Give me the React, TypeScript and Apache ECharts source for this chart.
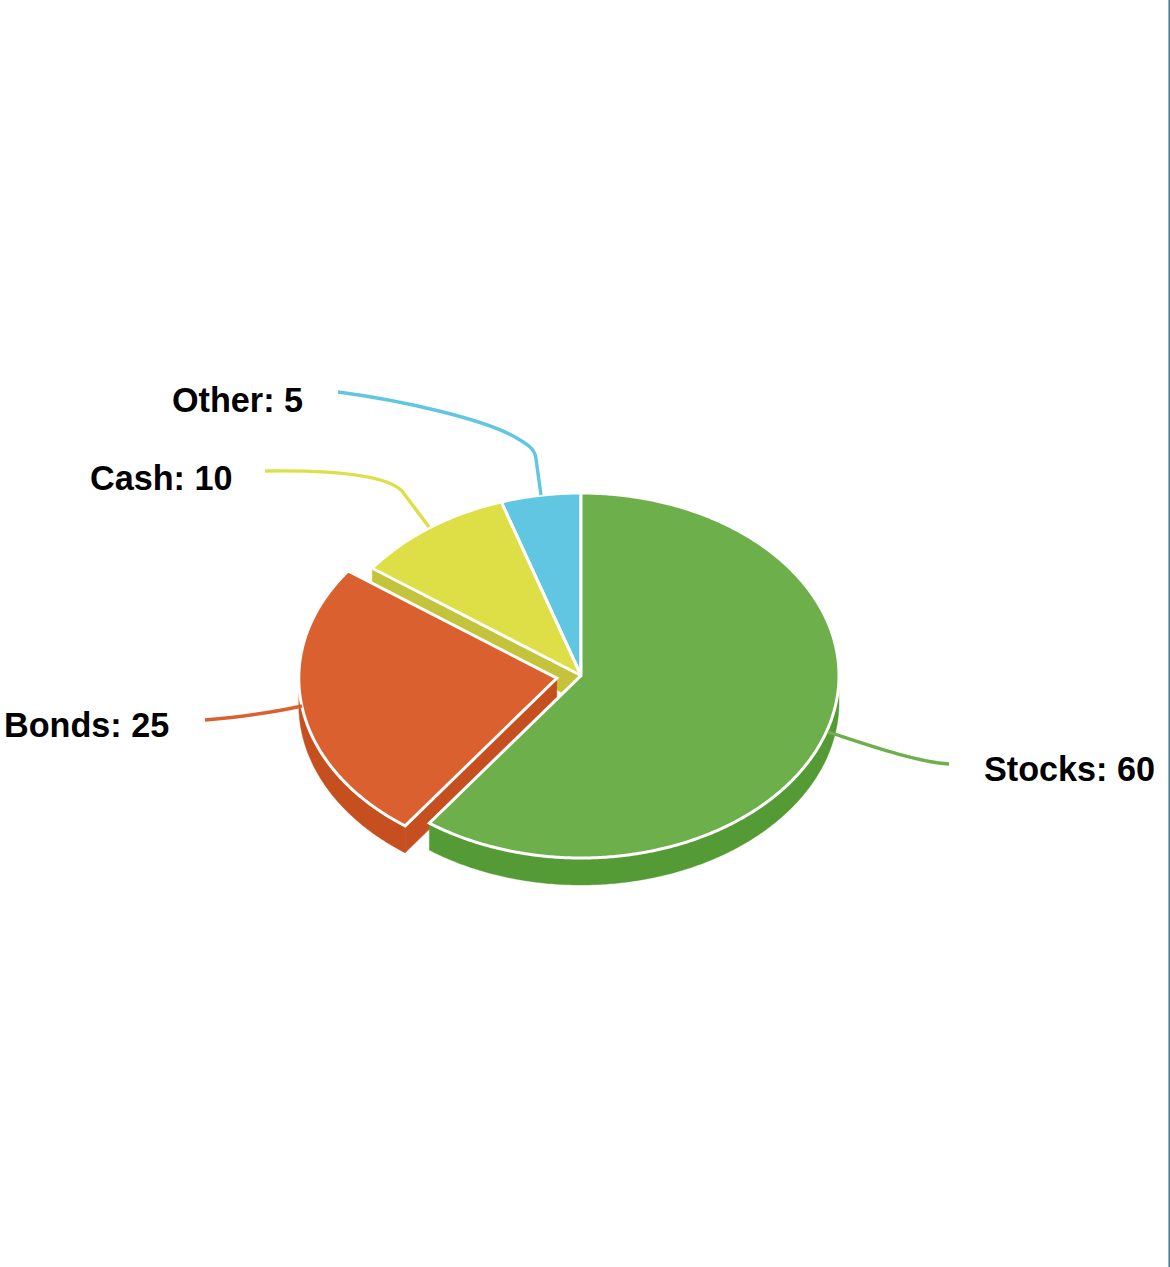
import React, { useEffect, useRef } from "react";
import * as echarts from "echarts";

// Data
const categories = ["Stocks", "Bonds", "Cash", "Other"];
const values = [60, 25, 10, 5];
const explode = [0, 0.095, 0, 0];

// Styles
const topColors = ["#6DB04B", "#DB6030", "#DEDF47", "#60C6E2"];
const wallColors = ["#559B35", "#C64F20", "#C4C43C", "#4FA9C4"];
const FONT = '"Liberation Sans", Arial, Helvetica, sans-serif';

// Layout
const W = 1170;
const H = 1267;
const CX = 581;
const CY = 675.5;
const RX = 258;
const RY = 182.5;
const DEPTH = 27;
const drawOrder = [3, 2, 1, 0];
const labelAnchors: [number, number][] = [
  [984, 769],
  [4, 725],
  [90, 478],
  [172, 399.5],
];
const leaderPaths = [
  "M828 732 C 862 743 915 762 949 764",
  "M205 720 C 240 717 275 712 302 706",
  "M265 471 C 330 470 385 474 402 491 L 429 527",
  "M338 392 C 400 400 490 420 520 440 C 530 446 535 450 536 459 L 541 495",
];

const total = values.reduce((a, b) => a + b, 0);
const starts: number[] = [];
values.reduce((acc, v, i) => {
  starts[i] = acc;
  return acc + (v / total) * 360;
}, 0);

const rad = (d: number) => (d * Math.PI) / 180;
const pt = (deg: number, ox: number, oy: number, dz = 0): number[] => [
  ox + RX * Math.sin(rad(deg)),
  oy - RY * Math.cos(rad(deg)) + dz,
];
const arc = (a: number, b: number, ox: number, oy: number, dz = 0) => {
  const out: number[][] = [];
  const n = Math.max(2, Math.ceil(Math.abs(b - a) * 2));
  for (let i = 0; i <= n; i++) out.push(pt(a + ((b - a) * i) / n, ox, oy, dz));
  return out;
};

function renderSlice(_: any, api: any) {
  const i = api.value(0);
  const a0 = starts[i];
  const a1 = a0 + (values[i] / total) * 360;
  const mid = (a0 + a1) / 2;
  const ox = CX + explode[i] * RX * Math.sin(rad(mid));
  const oy = CY - explode[i] * RY * Math.cos(rad(mid));
  const children: any[] = [];
  const wall = (points: number[][]) =>
    children.push({
      type: "polygon",
      shape: { points },
      style: { fill: wallColors[i], stroke: wallColors[i], lineWidth: 0.4 },
    });
  // cut face on the start side
  if (Math.sin(rad(a0)) < 0) {
    const p = pt(a0, ox, oy);
    wall([[ox, oy], p, [p[0], p[1] + DEPTH], [ox, oy + DEPTH]]);
  }
  // cut face on the end side
  if (Math.sin(rad(a1)) > 0.001) {
    const p = pt(a1, ox, oy);
    wall([[ox, oy], p, [p[0], p[1] + DEPTH], [ox, oy + DEPTH]]);
  }
  // front rim
  const f0 = Math.max(a0, 90);
  const f1 = Math.min(a1, 270);
  if (f1 > f0) {
    wall([...arc(f0, f1, ox, oy), ...arc(f1, f0, ox, oy, DEPTH)]);
  }
  // top face
  children.push({
    type: "polygon",
    shape: { points: [[ox, oy], ...arc(a0, a1, ox, oy)] },
    style: { fill: topColors[i], stroke: "#FFFFFF", lineWidth: 3, lineJoin: "miter" },
  });
  return { type: "group", children };
}

function renderLabel(_: any, api: any) {
  const i = api.value(0);
  return {
    type: "group",
    children: [
      {
        type: "path",
        shape: { pathData: leaderPaths[i], layout: "none" },
        style: { fill: "none", stroke: topColors[i], lineWidth: 3.4, lineCap: "butt" },
      },
      {
        type: "text",
        style: {
          text: `${categories[i]}: ${values[i]}`,
          x: labelAnchors[i][0],
          y: labelAnchors[i][1],
          fill: "#000000",
          fontFamily: FONT,
          fontWeight: "bold",
          fontSize: 34.2,
          align: "left",
          verticalAlign: "middle",
        },
      },
    ],
  };
}

export default function App() {
  const ref = useRef<HTMLDivElement>(null);
  useEffect(() => {
    const chart = echarts.init(ref.current!, undefined, { renderer: "svg" });
    chart.setOption({
      animation: false,
      backgroundColor: "#FFFFFF",
      graphic: [
        {
          type: "rect",
          silent: true,
          shape: { x: W - 1.6, y: 0, width: 1.6, height: H },
          style: { fill: "#4F8296" },
        },
      ],
      series: [
        {
          type: "custom",
          coordinateSystem: "none",
          silent: true,
          z: 2,
          data: drawOrder.map((i) => [i]),
          renderItem: renderSlice,
        },
        {
          type: "custom",
          coordinateSystem: "none",
          silent: true,
          z: 3,
          data: categories.map((_, i) => [i]),
          renderItem: renderLabel,
        },
      ],
    });
    return () => chart.dispose();
  }, []);
  return (
    <div
      ref={ref}
      style={{ position: "absolute", left: 0, top: 0, width: W, height: H }}
    />
  );
}
